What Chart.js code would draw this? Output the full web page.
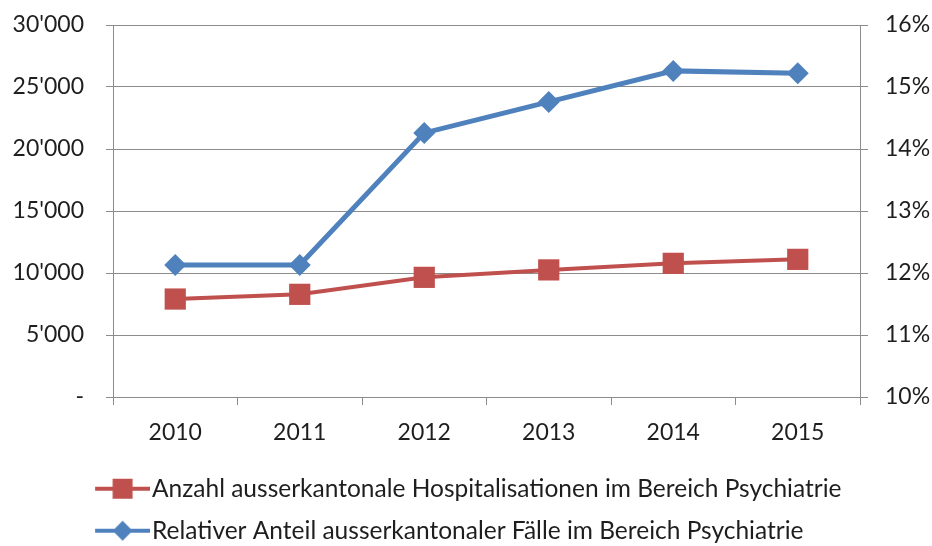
<!DOCTYPE html>
<html lang="de">
<head>
    <meta charset="UTF-8">
    <title>Ausserkantonale Hospitalisationen Psychiatrie</title>
    <script src="https://cdn.jsdelivr.net/npm/chart.js"></script>
    <style>
        html, body {
            margin: 0;
            padding: 0;
            background: #ffffff;
            overflow: hidden;
        }
        #chartContainer {
            position: relative;
            width: 932px;
            height: 553px;
        }
    </style>
</head>
<body>

    <div id="chartContainer">
        <canvas id="psyChart"></canvas>
    </div>

    <script>
        // Jahre und Werte
        const years = ['2010', '2011', '2012', '2013', '2014', '2015'];
        const hospitalisations = [7900, 8280, 9650, 10250, 10780, 11100];
        const sharePercent = [12.13, 12.13, 14.26, 14.76, 15.26, 15.22];

        const seriesLabels = [
            'Anzahl ausserkantonale Hospitalisationen im Bereich Psychiatrie',
            'Relativer Anteil ausserkantonaler Fälle im Bereich Psychiatrie'
        ];

        const red = '#C0504D';
        const blue = '#4F81BD';
        const gridGrey = '#8c8c8c';
        const textColor = '#1e1e1e';
        const fontFamily = 'Lato, "Liberation Sans", Arial, sans-serif';

        // Legend symbol: line with marker, left part transparent
        function legendSymbol(color, shape) {
            const c = document.createElement('canvas');
            c.width = 143;
            c.height = 24;
            const g = c.getContext('2d');
            g.strokeStyle = color;
            g.fillStyle = color;
            g.lineWidth = 4;
            g.beginPath();
            g.moveTo(88, 12);
            g.lineTo(143, 12);
            g.stroke();
            const cx = 115.5;
            g.beginPath();
            if (shape === 'square') {
                g.rect(cx - 10, 2, 20, 20);
            } else {
                g.moveTo(cx, 2);
                g.lineTo(cx + 10, 12);
                g.lineTo(cx, 22);
                g.lineTo(cx - 10, 12);
                g.closePath();
            }
            g.fill();
            return c;
        }

        // fixed axis widths, no extra label padding above/below the plot
        function fixWidth(w) {
            return (scale) => {
                scale.width = w;
                scale.paddingTop = 0;
                scale.paddingBottom = 0;
            };
        }

        const ctx = document.getElementById('psyChart').getContext('2d');

        const psyChart = new Chart(ctx, {
            type: 'line',
            data: {
                labels: years,
                datasets: [{
                    label: seriesLabels[0],
                    data: hospitalisations,
                    yAxisID: 'y',
                    borderColor: red,
                    backgroundColor: red,
                    borderWidth: 4,
                    pointStyle: 'rect',
                    pointRadius: 15,
                    pointBorderWidth: 0,
                    tension: 0,
                    legendSymbol: legendSymbol(red, 'square')
                }, {
                    label: seriesLabels[1],
                    data: sharePercent,
                    yAxisID: 'y1',
                    borderColor: blue,
                    backgroundColor: blue,
                    borderWidth: 5,
                    pointStyle: 'rectRot',
                    pointRadius: 11,
                    pointBorderWidth: 0,
                    tension: 0,
                    legendSymbol: legendSymbol(blue, 'diamond')
                }]
            },
            options: {
                responsive: true,
                maintainAspectRatio: false,
                animation: false,
                layout: {
                    padding: { top: 25, left: 0, right: 0, bottom: 0 }
                },
                plugins: {
                    tooltip: { enabled: false },
                    legend: {
                        position: 'bottom',
                        align: 'start',
                        labels: {
                            usePointStyle: true,
                            pointStyleWidth: 122.25,
                            padding: 17.5,
                            color: textColor,
                            font: { family: fontFamily, size: 24.5 },
                            generateLabels: (chart) => chart.data.datasets.map((ds, i) => ({
                                text: ds.label,
                                pointStyle: ds.legendSymbol,
                                fillStyle: ds.backgroundColor,
                                strokeStyle: ds.borderColor,
                                lineWidth: 0,
                                fontColor: textColor,
                                datasetIndex: i
                            }))
                        }
                    }
                },
                scales: {
                    x: {
                        offset: true,
                        grid: {
                            offset: true,
                            drawOnChartArea: false,
                            drawTicks: true,
                            tickLength: 8,
                            color: gridGrey
                        },
                        border: { color: gridGrey },
                        ticks: {
                            color: textColor,
                            padding: 14,
                            font: { family: fontFamily, size: 23 }
                        },
                        afterFit: (scale) => { scale.height = 62; }
                    },
                    y: {
                        position: 'left',
                        min: 0,
                        max: 30000,
                        ticks: {
                            stepSize: 5000,
                            color: textColor,
                            padding: 22,
                            font: { family: fontFamily, size: 23 },
                            callback: (v) => v === 0 ? '-' : String(v).replace(/\B(?=(\d{3})+(?!\d))/g, "'")
                        },
                        grid: { color: gridGrey, tickLength: 7 },
                        border: { color: gridGrey },
                        afterFit: fixWidth(113)
                    },
                    y1: {
                        position: 'right',
                        min: 10,
                        max: 16,
                        ticks: {
                            stepSize: 1,
                            color: textColor,
                            padding: 17,
                            font: { family: fontFamily, size: 23 },
                            callback: (v) => v + '%'
                        },
                        grid: { drawOnChartArea: false, color: gridGrey, tickLength: 8 },
                        border: { color: gridGrey },
                        afterFit: fixWidth(72)
                    }
                }
            }
        });
    </script>

</body>
</html>
